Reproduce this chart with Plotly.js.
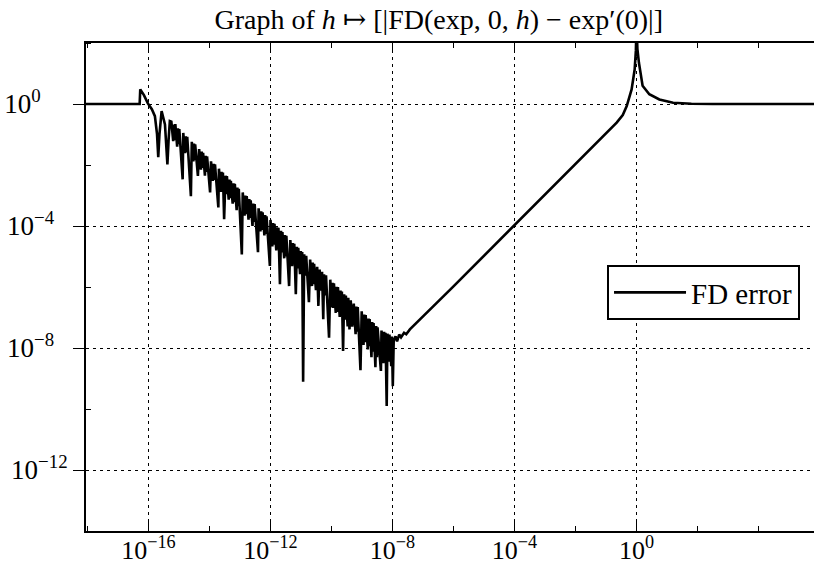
<!DOCTYPE html>
<html>
<head>
<meta charset="utf-8">
<script src="https://cdn.plot.ly/plotly-3.0.1.min.js"></script>
<style>
html,body{margin:0;padding:0;overflow:hidden;background:#fff;}
#chart{width:814px;height:567px;}
</style>
</head>
<body>
<div id="chart"></div>
<script>
// Series, stored as base-10 exponents (log10 h, log10 error)
const hExp = [
-18.10,-16.29,-16.27,-16.15,-16.02,-15.89,-15.79,-15.72,-15.68,-15.64,-15.57,-15.51,-15.46,-15.43,-15.38,-15.34,-15.30,
-15.25,-15.19,-15.165,-15.14,
-15.12,-15.06,-15.035,-15.01,
-14.99,-14.88,
-14.86,-14.80,-14.775,-14.75,
-14.73,-14.61,
-14.58,-14.53,-14.51,-14.49,
-14.47,-14.38,
-14.34,-14.28,-14.255,-14.23,
-14.21,-14.15,-14.125,-14.10,
-14.08,-13.98,
-13.95,-13.89,-13.865,-13.84,
-13.82,-13.71,
-13.69,-13.63,-13.605,-13.58,
-13.56,-13.52,-13.475,-13.45,
-13.43,-13.37,-13.345,-13.32,
-13.30,-13.24,-13.215,-13.19,
-13.17,-13.11,-13.085,-13.06,
-13.04,-12.94,
-12.91,-12.85,-12.825,-12.80,
-12.78,-12.72,-12.695,-12.67,
-12.65,-12.59,-12.565,-12.54,
-12.52,-12.41,
-12.39,-12.33,-12.305,-12.28,
-12.26,-12.20,-12.175,-12.15,
-12.13,-12.02,
-12.00,-11.94,-11.915,-11.89,
-11.87,-11.81,-11.785,-11.76,
-11.74,-11.69,-11.655,-11.63,
-11.61,-11.55,-11.525,-11.50,
-11.48,-11.39,
-11.35,-11.29,-11.265,-11.24,
-11.22,-11.17,-11.135,-11.11,
-11.09,-11.03,-11.005,-10.98,
-10.96,-10.93,-10.895,-10.87,
-10.83,-10.74,
-10.70,-10.64,-10.615,-10.59,
-10.57,-10.51,
-10.47,-10.43,-10.39,-10.35,
-10.31,-10.27,-10.245,-10.215,
-10.18,-10.08,
-10.04,-9.99,-9.965,-9.94,
-9.92,-9.86,-9.835,-9.81,
-9.79,-9.73,-9.705,-9.68,
-9.66,-9.62,-9.585,-9.56,
-9.53,-9.47,-9.45,-9.41,-9.37,-9.32,
-9.27,-9.21,-9.185,-9.16,
-9.14,-9.05,
-9.01,-8.95,-8.925,-8.90,
-8.88,-8.81,-8.785,-8.77,
-8.75,-8.69,-8.665,-8.64,
-8.62,-8.56,-8.535,-8.51,
-8.49,-8.38,
-8.36,-8.30,-8.275,-8.25,
-8.23,-8.19,-8.165,-8.135,
-8.10,-8.04,
-8.02,-7.99,-7.96,-7.90,-7.85,-7.78,-7.72,-7.62,-7.55,-7.43,
-6.00,-4.00,-2.00,-1.20,-0.90,-0.65,-0.45,-0.32,-0.16,-0.06,-0.02,0.00,0.03,0.08,0.20,0.42,0.75,1.20,1.80,2.50,5.90
];
const errExp = [
0.00,0.00,0.48,0.29,0.02,-0.17,-0.40,-0.99,-1.74,-0.99,-0.23,-0.44,-0.67,-1.16,-1.98,-1.16,-0.56,
-0.58,-1.22,-0.67,-1.19,
-0.66,-1.40,-0.80,-1.32,
-0.82,-2.47,
-0.95,-1.61,-1.06,-1.58,
-1.08,-3.02,
-1.24,-1.88,-1.30,-1.84,
-1.32,-2.36,
-1.48,-2.15,-1.56,-2.10,
-1.60,-2.35,-1.70,-2.23,
-1.72,-2.90,
-1.88,-2.52,-1.96,-2.49,
-1.98,-3.39,
-2.12,-2.88,-2.22,-2.83,
-2.25,-3.78,-2.35,-2.96,
-2.36,-3.14,-2.48,-3.09,
-2.52,-3.27,-2.60,-3.22,
-2.62,-3.48,-2.74,-3.35,
-2.78,-4.93,
-2.90,-3.66,-3.00,-3.61,
-3.02,-3.79,-3.12,-3.74,
-3.16,-4.00,-3.26,-3.87,
-3.28,-4.86,
-3.42,-4.18,-3.52,-4.13,
-3.55,-4.31,-3.64,-4.26,
-3.68,-5.31,
-3.80,-4.67,-3.90,-4.61,
-3.93,-4.80,-4.04,-4.74,
-4.06,-5.91,-4.16,-4.87,
-4.20,-5.06,-4.30,-5.00,
-4.32,-5.97,
-4.46,-5.32,-4.56,-5.26,
-4.58,-6.24,-4.68,-5.39,
-4.72,-5.58,-4.82,-5.52,
-4.85,-9.11,-4.93,-5.63,
-4.98,-6.50,
-5.10,-5.97,-5.20,-5.91,
-5.24,-6.10,
-5.34,-6.62,-5.43,-6.12,
-5.50,-7.06,-5.58,-6.28,
-5.62,-7.66,
-5.76,-6.67,-5.86,-6.69,
-5.88,-6.85,-5.99,-6.82,
-6.00,-6.98,-6.12,-6.95,
-6.15,-8.10,-6.24,-7.07,
-6.28,-7.29,-6.35,-7.39,-6.44,-7.30,
-6.54,-7.55,-6.64,-7.47,
-6.66,-8.73,
-6.80,-7.90,-6.90,-7.81,
-6.92,-8.05,-7.03,-7.94,
-7.05,-8.30,-7.15,-8.12,
-7.18,-8.63,-7.28,-8.30,
-7.32,-8.75,
-7.43,-8.50,-7.47,-8.40,
-7.50,-9.90,-7.53,-8.45,
-7.56,-8.60,
-7.62,-9.25,-7.75,-7.62,-7.78,-7.56,-7.65,-7.50,-7.55,-7.39,
-5.98,-3.97,-1.96,-1.16,-0.87,-0.61,-0.36,-0.07,0.48,1.13,1.75,2.60,1.80,1.35,0.60,0.32,0.15,0.04,0.01,0.00,0.00
];
const seriesName = "FD error";

const NB = "\u00A0";
const xTickVals = [1e-16, 1e-12, 1e-8, 1e-4, 1];
const xTickText = ["10<sup>−16</sup>", "10<sup>−12</sup>", "10<sup>−8</sup>", "10<sup>−4</sup>", "10<sup>0</sup>"];
const xMinorVals = [1e-18, 1e-14, 1e-10, 1e-6, 1e-2, 1e2, 1e4];
const yTickVals = [1e-12, 1e-8, 1e-4, 1];
// y labels are left-aligned in the reference: pad the shorter ones on the right
const yTickText = ["10<sup>−12</sup>", "10<sup>−8</sup>" + NB + NB, "10<sup>−4</sup>" + NB + NB, "10<sup>0</sup>" + NB + NB + NB + NB];
const yMinorVals = [1e-14, 1e-10, 1e-6, 1e-2, 1e2];
const titleText = "Graph of <i>h</i> ↦ [|FD(exp, 0, <i>h</i>) − exp′(0)|]";

const n = Math.min(hExp.length, errExp.length);
const h = hExp.slice(0, n).map(v => Math.pow(10, v));
const err = errExp.slice(0, n).map(v => Math.pow(10, v));

const serif = "Liberation Serif, DejaVu Serif, serif";

const trace = {
  x: h, y: err, type: "scatter", mode: "lines", name: seriesName,
  line: {color: "#000", width: 2.6}
};

const layout = {
  width: 814, height: 567,
  margin: {l: 86, r: 0, t: 43, b: 36, pad: 0},
  paper_bgcolor: "#fff", plot_bgcolor: "#fff",
  font: {family: serif, size: 27, color: "#000"},
  title: {text: titleText, font: {family: serif, size: 28, color: "#000"},
          xref: "container", x: 0.539, xanchor: "center",
          yref: "container", y: 0.966, yanchor: "middle"},
  showlegend: true,
  legend: {x: 0.7157, xanchor: "left", y: 0.545, yanchor: "top",
           bgcolor: "#fff", bordercolor: "#000", borderwidth: 2,
           font: {family: serif, size: 29, color: "#000"}, itemwidth: 72},
  xaxis: {
    type: "log", range: [-18.049, 5.82],
    tickmode: "array", tickvals: xTickVals, ticktext: xTickText,
    ticks: "inside", ticklen: 10, tickwidth: 1, tickcolor: "#000",
    showline: true, linecolor: "#000", linewidth: 2, mirror: "ticks",
    showgrid: true, gridcolor: "#000", gridwidth: 1, griddash: "3px,4px",
    zeroline: false, ticklabelstandoff: -5,
    minor: {tickmode: "array", tickvals: xMinorVals, ticks: "inside", ticklen: 5, tickwidth: 1, tickcolor: "#000", showgrid: false},
    tickfont: {family: serif, size: 26, color: "#000"}
  },
  yaxis: {
    type: "log", range: [-14, 2],
    tickmode: "array", tickvals: yTickVals, ticktext: yTickText,
    ticks: "outside", ticklen: 11, tickwidth: 1, tickcolor: "#000",
    showline: true, linecolor: "#000", linewidth: 2, mirror: false,
    showgrid: true, gridcolor: "#000", gridwidth: 1, griddash: "3px,4px",
    zeroline: false,
    minor: {tickmode: "array", tickvals: yMinorVals, ticks: "inside", ticklen: 5, tickwidth: 1, tickcolor: "#000", showgrid: false},
    tickfont: {family: serif, size: 27, color: "#000"}
  }
};

Plotly.newPlot("chart", [trace], layout, {displayModeBar: false, staticPlot: true});
</script>
</body>
</html>
